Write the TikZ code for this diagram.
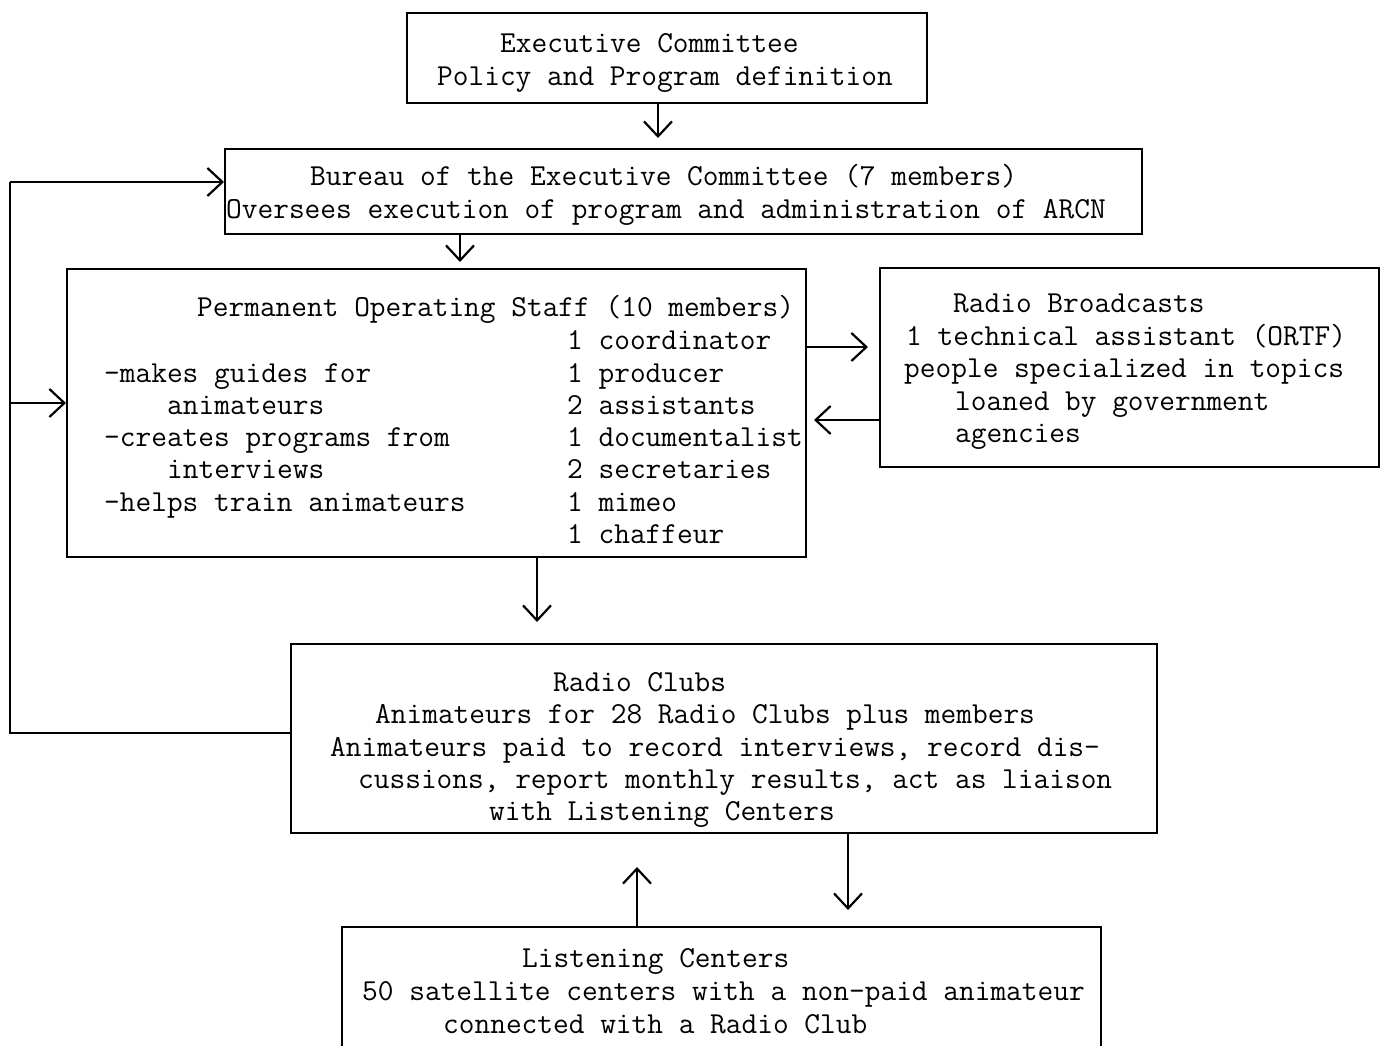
\documentclass[tikz,border=0pt]{standalone}
\usetikzlibrary{arrows.meta}
\begin{document}
\begin{tikzpicture}[x=1pt,y=-1pt,
  box/.style={draw, line width=2pt, rectangle, inner sep=0pt, anchor=north west},
  txt/.style={anchor=base west, inner sep=0pt, font=\fontsize{30.5}{33}\selectfont\ttfamily},
  arr/.style={line width=2.2pt, -{Straight Barb[length=15pt,width=28pt,line width=2.2pt]}},
  link/.style={line width=2.2pt}]
\useasboundingbox[fill=white] (0,0) rectangle (1381,1046);
% boxes
\node[box, minimum width=520pt, minimum height=90pt] (exec) at (406,12) {};
\node[box, minimum width=917pt, minimum height=85pt] (bureau) at (224,148) {};
\node[box, minimum width=739pt, minimum height=288pt] (perm) at (66,268) {};
\node[box, minimum width=499pt, minimum height=199pt] (bcast) at (879,267) {};
\node[box, minimum width=866pt, minimum height=189pt] (clubs) at (290,643) {};
\node[box, minimum width=759pt, minimum height=140pt] (listen) at (341,926) {};
% texts
\node[txt] (e1) at (500,53) {Executive Committee};
\node[txt] (e2) at (437,86) {Policy and Program definition};
\node[txt] (b1) at (310,185) {Bureau of the Executive Committee (7 members)};
\node[txt] (b2) at (226,218) {Oversees execution of program and administration of ARCN};
\node[txt] (p0) at (197,316) {Permanent Operating Staff (10 members)};
\node[txt] (p1) at (567,349) {1 coordinator};
\node[txt] (p2) at (567,382) {1 producer};
\node[txt] (p3) at (567,414) {2 assistants};
\node[txt] (p4) at (567,446) {1 documentalist};
\node[txt] (p5) at (567,478) {2 secretaries};
\node[txt] (p6) at (567,511) {1 mimeo};
\node[txt] (p7) at (567,543) {1 chaffeur};
\node[txt] (l1) at (104,382) {-makes guides for};
\node[txt] (l2) at (167,414) {animateurs};
\node[txt] (l3) at (104,446) {-creates programs from};
\node[txt] (l4) at (167,478) {interviews};
\node[txt] (l5) at (104,511) {-helps train animateurs};
\node[txt] (r1) at (953,312) {Radio Broadcasts};
\node[txt] (r2) at (906,345) {1 technical assistant (ORTF)};
\node[txt] (r3) at (904,377) {people specialized in topics};
\node[txt] (r4) at (955,410) {loaned by government};
\node[txt] (r5) at (955,442) {agencies};
\node[txt] (c1) at (553,691) {Radio Clubs};
\node[txt] (c2) at (375,723) {Animateurs for 28 Radio Clubs plus members};
\node[txt] (c3) at (330,756) {Animateurs paid to record interviews, record dis-};
\node[txt] (c4) at (358,788) {cussions, report monthly results, act as liaison};
\node[txt] (c5) at (489,820) {with Listening Centers};
\node[txt] (s1) at (522,967) {Listening Centers};
\node[txt] (s2) at (362,1000) {50 satellite centers with a non-paid animateur};
\node[txt] (s3) at (443,1033) {connected with a Radio Club};
% connectors
\draw[arr, shorten >=10pt] ([xshift=-9pt]exec.south) -- ([xshift=-9pt]exec.south |- bureau.north);
\draw[arr, shorten >=6pt] ([xshift=-223.5pt]bureau.south) -- ([xshift=-223.5pt]bureau.south |- perm.north);
\draw[arr, shorten >=21pt] ([xshift=100.5pt]perm.south) -- ([xshift=100.5pt]perm.south |- clubs.north);
\draw[arr, shorten >=11pt] (perm.east |- 0,347) -- (bcast.west |- 0,347);
\draw[arr, shorten >=7pt] (bcast.west |- 0,420) -- (perm.east |- 0,420);
\draw[arr, shorten >=33pt] (listen.north -| 637,0) -- (clubs.south -| 637,0);
\draw[arr, shorten >=16pt] (clubs.south -| 848,0) -- (listen.north -| 848,0);
\coordinate (fbB) at (10,733);
\coordinate (fbT) at (10,182);
\coordinate (fbM) at (10,403);
\draw[link] (clubs.west |- fbB) -- (fbB) -- (fbT);
\draw[arr] (fbT) -- (bureau.west |- fbT);
\draw[arr] (fbM) -- (perm.west |- fbM);
\end{tikzpicture}
\end{document}
